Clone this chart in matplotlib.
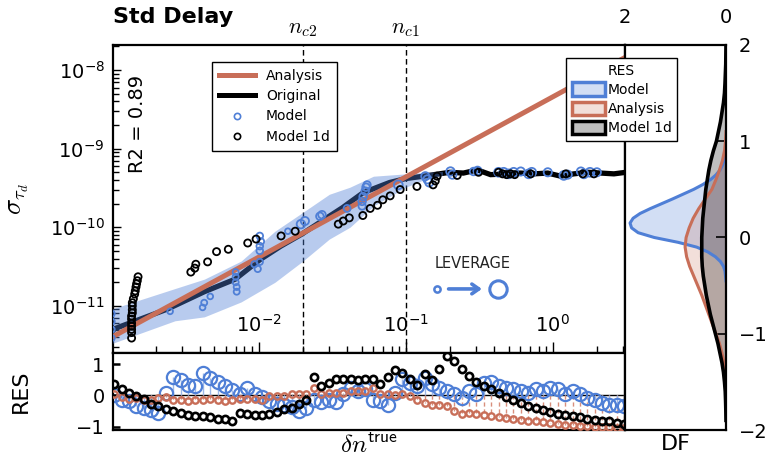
import numpy as np
import matplotlib
matplotlib.use('Agg')
import matplotlib.pyplot as plt
from matplotlib.lines import Line2D
from matplotlib.patches import Patch
from matplotlib.colors import to_rgba
import matplotlib.transforms as mtransforms

plt.rcParams['font.family'] = ['DejaVu Sans']
plt.rcParams['mathtext.fontset'] = 'dejavusans'

BLUE = '#4f7fd6'
ORANGE = '#c86e58'
BLUE_STEM = '#9db8e8'
ORANGE_STEM = '#d98f7c'

# ---------------- main panel data (log10 values) ----------------
nc_values = [0.02, 0.1]
nc_labels = [r'$n_{c2}$', r'$n_{c1}$']
x_major_ticks = [1e-2, 1e-1, 1e0]
y_major_ticks = [1e-11, 1e-10, 1e-9, 1e-8]

analysis_log_dn = [-3.0, 0.5]
analysis_log_sigma = [-11.40, -7.83]

original_log_dn = [-3.0, -2.98, -2.62, -2.37, -2.16, -1.99, -1.85, -1.71, -1.43, -1.29, -1.11, -1.00,
                   -0.88, -0.70, -0.608, -0.512, -0.423, -0.307, -0.218, -0.130, -0.034, 0.055,
                   0.143, 0.239, 0.328, 0.416, 0.498]
original_log_sigma = [-11.33, -11.29, -11.04, -10.82, -10.66, -10.41, -10.24, -10.09, -9.75, -9.56, -9.43,
                      -9.38, -9.35, -9.30, -9.31, -9.27, -9.33, -9.32, -9.31, -9.32, -9.31, -9.35,
                      -9.32, -9.30, -9.31, -9.32, -9.30]

band_log_dn = [-3.0, -2.57, -2.37, -2.12, -1.89, -1.70, -1.52, -1.38, -1.22, -1.00, -0.87, -0.75]
band_log_low = [-11.48, -11.19, -11.14, -10.95, -10.70, -10.43, -10.15, -10.00, -9.73, -9.49, -9.39, -9.34]
band_log_high = [-11.04, -10.78, -10.66, -10.43, -10.05, -9.81, -9.58, -9.49, -9.35, -9.32, -9.30, -9.29]

model_log_dn = [-3.0, -3.0, -3.0, -3.0, -2.603, -2.382, -2.371, -2.330, -2.157, -2.157, -2.157, -2.150,
                -2.150, -2.029, -2.007, -1.993, -1.993, -1.986, -1.993, -1.993, -1.802, -1.713, -1.686,
                -1.584, -1.570, -1.399, -1.297, -1.297, -1.290, -1.276, -1.270, -1.263, -1.051, -0.867,
                -0.853, -0.840, -0.696, -0.683, -0.539, -0.512, -0.369, -0.334, -0.300, -0.266, -0.218,
                -0.164, -0.143, -0.034, 0.075, 0.102, 0.191, 0.212, 0.253, 0.300]
model_log_sigma = [-11.10, -11.20, -11.30, -11.41, -11.07, -11.02, -10.96, -10.88, -10.57, -10.63, -10.70,
                   -10.76, -10.82, -10.47, -10.53, -10.44, -10.11, -10.18, -10.24, -10.30, -10.05, -9.96,
                   -9.92, -9.86, -9.84, -9.76, -9.73, -9.67, -9.61, -9.54, -9.49, -9.46, -9.46, -9.35,
                   -9.39, -9.43, -9.29, -9.33, -9.29, -9.28, -9.30, -9.30, -9.32, -9.30, -9.29, -9.32,
                   -9.30, -9.30, -9.34, -9.33, -9.29, -9.32, -9.30, -9.30]
model_leverage = [0.25, 0.25, 0.25, 0.25, 0.2, 0.2, 0.25, 0.2, 0.25, 0.25, 0.25, 0.25, 0.25, 0.3, 0.3,
                  0.3, 0.35, 0.35, 0.35, 0.35, 0.2, 0.65, 0.6, 0.5, 0.5, 0.4, 0.45, 0.5, 0.5, 0.5, 0.5,
                  0.45, 0.7, 0.6, 0.6, 0.6, 0.65, 0.6, 0.5, 0.6, 0.7, 0.7, 0.7, 0.7, 0.6, 0.7, 0.7,
                  0.6, 0.7, 0.6, 0.6, 0.7, 0.7, 0.6]

model1d_log_dn = [-2.821, -2.826, -2.831, -2.835, -2.840, -2.844, -2.853, -2.860, -2.860, -2.860, -2.860,
                  -2.865, -2.865, -2.865, -2.865, -2.865, -2.865, -2.865, -2.462, -2.435, -2.428, -2.348,
                  -2.287, -2.207, -2.075, -2.018, -1.848, -1.752, -1.459, -1.425, -1.384, -1.292, -1.242,
                  -1.192, -1.156, -1.106, -1.038, -0.924, -0.814, -0.799, -0.787, -0.650, -0.505, -0.369,
                  -0.341, -0.314, -0.287, -0.259, -0.150, 0.089, 0.205, 0.280]
model1d_log_sigma = [-10.63, -10.68, -10.72, -10.76, -10.81, -10.85, -10.91, -10.96, -11.00, -11.05, -11.09,
                     -11.13, -11.17, -11.22, -11.26, -11.30, -11.34, -11.41, -10.57, -10.52, -10.47, -10.44,
                     -10.31, -10.28, -10.20, -10.15, -10.11, -10.05, -9.96, -9.92, -9.88, -9.85, -9.76,
                     -9.72, -9.65, -9.60, -9.52, -9.48, -9.46, -9.41, -9.35, -9.34, -9.30, -9.30, -9.32,
                     -9.33, -9.32, -9.33, -9.32, -9.32, -9.32, -9.32]

# ---------------- residual panel data ----------------
res_model1d = [0.355, 0.215, 0.086, -0.022, -0.129, -0.258, -0.344, -0.430, -0.505, -0.559, -0.613,
               -0.645, -0.667, -0.699, -0.742, -0.763, -0.806, -0.559, -0.591, -0.613, -0.613, -0.581,
               -0.538, -0.430, -0.398, -0.269, -0.161, 0.602, 0.301, 0.387, 0.538, 0.538, 0.516, 0.495,
               0.516, 0.538, 0.355, 0.591, 0.806, 0.699, 0.538, 0.333, 0.677, 0.484, 0.839, 1.247, 1.086,
               0.839, 0.624, 0.441, 0.301, 0.194, 0.065, -0.043, -0.161, -0.237, -0.323, -0.398, -0.473,
               -0.538, -0.581, -0.613, -0.645, -0.688, -0.742, -0.774, -0.806, -0.828, -0.882, -0.903]
res_model = [0.00, -0.13, -0.18, -0.34, -0.40, -0.45, -0.56, 0.09, 0.60, 0.48, 0.33, 0.30, 0.70, 0.57,
             0.44, 0.30, 0.16, 0.03, 0.23, 0.03, -0.05, -0.18, -0.27, -0.31, -0.38, -0.51, -0.40, -0.13,
             -0.20, -0.13, -0.20, 0.05, 0.25, 0.14, 0.19, -0.13, -0.18, -0.29, 0.09, 0.52, 0.38, 0.30,
             0.55, 0.35, 0.25, 0.14, 0.03, -0.08, 0.14, 0.03, 0.41, 0.44, 0.30, 0.25, 0.19, 0.14, 0.09,
             0.19, 0.14, 0.25, 0.19, 0.03, 0.14, 0.03, -0.08, -0.13, -0.24, -0.29, -0.29, -0.34]
res_analysis = [0.03, -0.05, -0.10, -0.08, -0.13, -0.13, -0.08, -0.05, -0.13, -0.16, -0.18, -0.13, -0.13,
                -0.11, -0.13, -0.18, -0.13, -0.11, -0.11, -0.11, -0.13, -0.02, -0.02, -0.02, 0.03, 0.03,
                0.03, 0.25, 0.03, 0.09, 0.09, 0.09, 0.14, 0.14, 0.14, 0.25, 0.06, 0.03, 0.01, 0.03, -0.02,
                -0.16, -0.24, -0.29, -0.32, -0.34, -0.51, -0.58, -0.56, -0.58, -0.63, -0.67, -0.69, -0.72,
                -0.74, -0.77, -0.80, -0.81, -0.85, -0.88, -0.90, -0.94, -0.94, -0.96, -0.97, -0.99, -0.99,
                -1.02, -1.04, -1.04]

# ---------------- distribution (DF) panel data ----------------
df_model_res = [-0.45, -0.40, -0.35, -0.30, -0.25, -0.20, -0.15, -0.10, -0.05, 0.00, 0.05, 0.10, 0.15,
                0.20, 0.25, 0.30, 0.35, 0.40, 0.45, 0.50, 0.55, 0.60, 0.65, 0.70, 0.75, 0.80, 0.85, 0.90,
                0.95, 1.00]
df_model = [0.0, 0.01, 0.02, 0.05, 0.11, 0.21, 0.36, 0.58, 0.95, 1.42, 1.74, 1.87, 1.90, 1.84, 1.70, 1.50,
            1.28, 1.06, 0.85, 0.64, 0.46, 0.31, 0.20, 0.12, 0.07, 0.04, 0.02, 0.01, 0.005, 0.0]
df_analysis_res = [-1.5, -1.4, -1.3, -1.2, -1.1, -1.0, -0.9, -0.8, -0.7, -0.6, -0.5, -0.4, -0.3, -0.2, -0.1,
                   0.0, 0.1, 0.2, 0.3, 0.4, 0.5, 0.6, 0.7, 0.8, 0.9, 1.0, 1.1]
df_analysis = [0.0, 0.02, 0.04, 0.08, 0.13, 0.20, 0.27, 0.34, 0.41, 0.48, 0.56, 0.64, 0.72, 0.78, 0.81, 0.79,
               0.73, 0.65, 0.54, 0.41, 0.28, 0.20, 0.13, 0.07, 0.03, 0.01, 0.0]
df_model1d_res = [-1.9, -1.8, -1.7, -1.6, -1.5, -1.4, -1.3, -1.2, -1.1, -1.0, -0.9, -0.8, -0.7, -0.6, -0.5,
                  -0.4, -0.3, -0.2, -0.1, 0.0, 0.1, 0.2, 0.3, 0.4, 0.5, 0.6, 0.7, 0.8, 0.9, 1.0, 1.1, 1.2,
                  1.3, 1.4, 1.5, 1.6, 1.8, 2.0]
df_model1d = [0.0, 0.003, 0.008, 0.015, 0.03, 0.05, 0.08, 0.12, 0.16, 0.21, 0.26, 0.31, 0.35, 0.39, 0.42,
              0.45, 0.47, 0.48, 0.48, 0.48, 0.47, 0.46, 0.44, 0.42, 0.40, 0.37, 0.34, 0.30, 0.25, 0.19,
              0.15, 0.11, 0.08, 0.05, 0.03, 0.02, 0.005, 0.0]

# ---------------- figure ----------------
fig = plt.figure(figsize=(7.72, 4.69), dpi=100)
ax = fig.add_axes([113 / 772, 1 - 353 / 469, 512 / 772, 308 / 469])
axr = fig.add_axes([113 / 772, 1 - 430 / 469, 512 / 772, 77 / 469])
axd = fig.add_axes([625 / 772, 1 - 430 / 469, 101 / 772, 385 / 469])

for a in (ax, axr, axd):
    for s in a.spines.values():
        s.set_linewidth(1.6)

# main panel
p = lambda v: 10 ** np.asarray(v, dtype=float)
ax.plot(p(original_log_dn), p(original_log_sigma), color='black', lw=3.8, zorder=2,
        solid_joinstyle='miter')
ax.fill_between(p(band_log_dn), p(band_log_low), p(band_log_high), color=BLUE, alpha=0.4, lw=0, zorder=3)
ax.plot(p(analysis_log_dn), p(analysis_log_sigma), color=ORANGE, lw=3.6, zorder=4)
sizes = (3.2 + 4.5 * np.asarray(model_leverage)) ** 2
ax.scatter(p(model_log_dn), p(model_log_sigma), s=sizes, facecolors='none', edgecolors=BLUE,
           linewidths=1.3, zorder=5)
ax.scatter(p(model1d_log_dn), p(model1d_log_sigma), s=26, facecolors='none', edgecolors='black',
           linewidths=1.3, zorder=6)
for v in nc_values:
    ax.axvline(v, color='black', lw=1.0, ls=(0, (4, 2.5)), zorder=1)
trans = mtransforms.blended_transform_factory(ax.transData, ax.transAxes)
for v, lab in zip(nc_values, nc_labels):
    ax.text(v, 1.02, lab, transform=trans, ha='center', va='bottom', fontsize=16,
            math_fontfamily='cm')

ax.set_xscale('log')
ax.set_yscale('log')
ax.set_xticks(x_major_ticks)
ax.set_yticks(y_major_ticks)
ax.set_xlim(1.02e-3, 3.1)
ax.set_ylim(10 ** -11.6, 10 ** -7.68)
ax.tick_params(axis='both', which='both', direction='in', width=1.0)
ax.tick_params(axis='x', which='major', length=8, pad=-28, labelsize=14)
ax.tick_params(axis='x', which='minor', length=5, labelbottom=False)
ax.tick_params(axis='y', which='major', length=6, labelsize=14, pad=6)
ax.tick_params(axis='y', which='minor', length=4, labelleft=False)
ax.set_ylabel(r'$\sigma_{\tau_d}$', fontsize=19, math_fontfamily='cm')
ax.yaxis.set_label_coords(-0.160, 0.5)

ax.text(0.048, 0.745, 'R2 = 0.89', rotation=90, transform=ax.transAxes, ha='center', va='center',
        fontsize=14)

# leverage key
ax.text(0.703, 0.292, 'LEVERAGE', transform=ax.transAxes, ha='center', va='center', fontsize=10.5,
        color='#222222')
ax.plot([0.633], [0.208], 'o', mfc='none', mec=BLUE, ms=4.5, mew=1.8, transform=ax.transAxes)
ax.annotate('', xy=(0.726, 0.208), xytext=(0.650, 0.208), xycoords='axes fraction',
            arrowprops=dict(arrowstyle='->,head_length=0.5,head_width=0.35', color=BLUE, lw=2.6))
ax.plot([0.752], [0.208], 'o', mfc='none', mec=BLUE, ms=12.5, mew=2.2, transform=ax.transAxes)

handles1 = [Line2D([], [], color=ORANGE, lw=3.6), Line2D([], [], color='black', lw=3.6),
            Line2D([], [], ls='none', marker='o', mfc='none', mec=BLUE, ms=4.5, mew=1.2),
            Line2D([], [], ls='none', marker='o', mfc='none', mec='black', ms=4.5, mew=1.2)]
leg1 = ax.legend(handles1, ['Analysis', 'Original', 'Model', 'Model 1d'], loc='upper left',
                 bbox_to_anchor=(0.193, 0.945), fontsize=10, frameon=True, fancybox=False,
                 edgecolor='black', framealpha=1, borderpad=0.5, labelspacing=0.45,
                 handlelength=2.6, handletextpad=0.8, borderaxespad=0)
leg1.get_frame().set_linewidth(1.0)

fig.text(113 / 772, 1 - 17 / 469, 'Std Delay', fontsize=16, fontweight='bold', ha='left',
         va='center')

# residual panel
idx = np.arange(len(res_model1d))
axr.axhline(0, color='black', lw=1.0, zorder=1)
axr.vlines(idx, 0, res_analysis, colors=ORANGE_STEM, linestyles=(0, (3, 2)), lw=1.0, zorder=1.5)
axr.vlines(idx, 0, res_model, colors=BLUE_STEM, lw=1.0, zorder=1.5)
axr.plot(idx, res_model, 'o', mfc='none', mec=BLUE, ms=9.5, mew=1.6, ls='none', zorder=2.5)
axr.plot(idx, res_analysis, 'o', mfc='none', mec=ORANGE, ms=4.6, mew=1.7, ls='none', zorder=3)
axr.plot(idx, res_model1d, 'o', mfc='none', mec='black', ms=5.2, mew=1.9, ls='none', zorder=4)
axr.set_xlim(-0.15, len(idx) - 0.9)
axr.set_ylim(-1.1, 1.35)
axr.set_xticks([])
axr.set_yticks([-1, 0, 1])
axr.tick_params(axis='y', direction='in', length=5, width=1.8, labelsize=14, pad=6)
axr.set_ylabel('RES', fontsize=16)
axr.yaxis.set_label_coords(-0.160, 0.5)
axr.set_xlabel(r'$\delta n^{\mathsf{true}}$', fontsize=18, math_fontfamily='cm', labelpad=3)

# DF panel
axd.fill_betweenx(df_model_res, 0, df_model, color=BLUE, alpha=0.25, lw=0)
axd.plot(df_model, df_model_res, color=BLUE, lw=2.2)
axd.fill_betweenx(df_analysis_res, 0, df_analysis, color=ORANGE, alpha=0.22, lw=0)
axd.plot(df_analysis, df_analysis_res, color=ORANGE, lw=2.2)
axd.fill_betweenx(df_model1d_res, 0, df_model1d, color='black', alpha=0.25, lw=0)
axd.plot(df_model1d, df_model1d_res, color='black', lw=2.6)
axd.set_xlim(2, 0)
axd.set_ylim(-2, 2)
axd.xaxis.tick_top()
axd.set_xticks([2, 0])
axd.yaxis.tick_right()
axd.set_yticks([-2, -1, 0, 1, 2])
axd.tick_params(axis='x', length=0, labelsize=14, pad=13)
axd.tick_params(axis='y', direction='in', length=7, width=1.2, labelsize=14, pad=9)
axd.xaxis.set_label_position('bottom')
axd.set_xlabel('DF', fontsize=16, labelpad=3)

handles2 = [Patch(facecolor=to_rgba(BLUE, 0.25), edgecolor=BLUE, lw=2.5),
            Patch(facecolor=to_rgba(ORANGE, 0.22), edgecolor=ORANGE, lw=2.5),
            Patch(facecolor=to_rgba('black', 0.25), edgecolor='black', lw=2.5)]
leg2 = fig.legend(handles2, ['Model', 'Analysis', 'Model 1d'], title='RES', loc='upper left',
                  bbox_to_anchor=(566 / 772, 1 - 58 / 469), fontsize=10, title_fontsize=10,
                  fancybox=False, edgecolor='black', framealpha=1, handlelength=2.4,
                  handleheight=1.1, handletextpad=0.2, borderpad=0.4, labelspacing=0.35,
                  borderaxespad=0)
leg2.get_frame().set_linewidth(1.0)

fig.savefig('out.png', dpi=100)
